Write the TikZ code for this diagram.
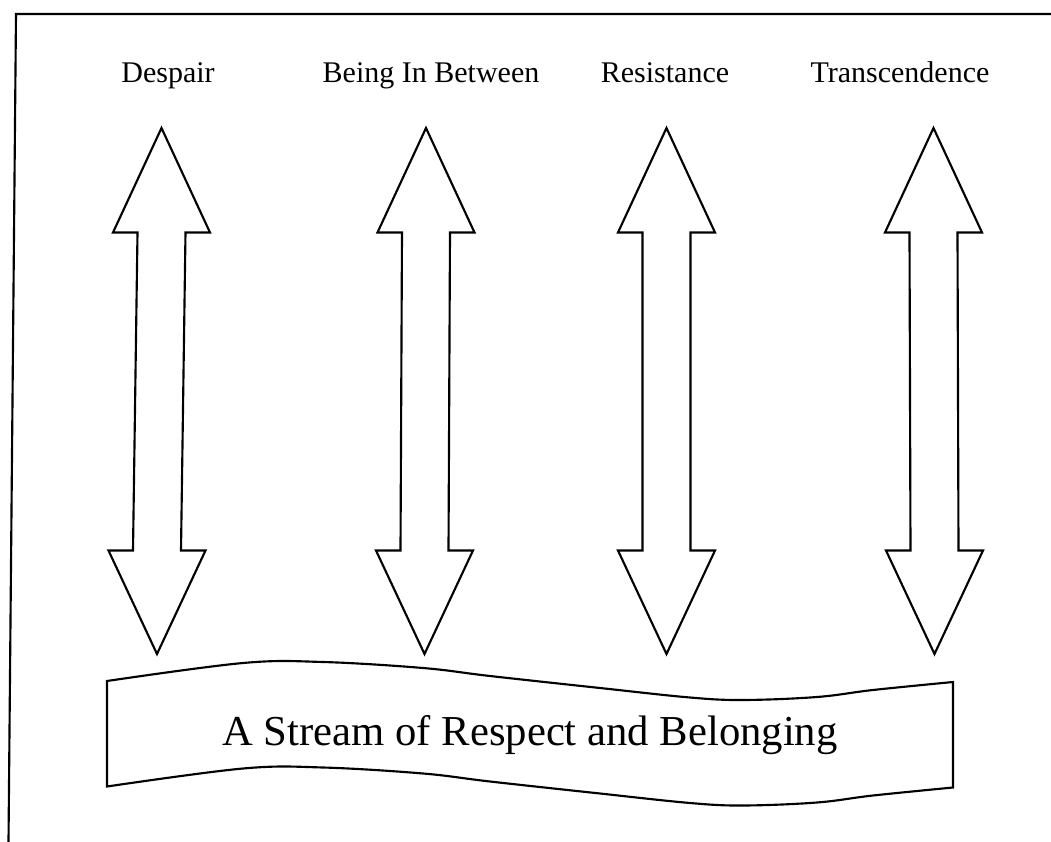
\documentclass[tikz,border=0pt]{standalone}
\usepackage{fontspec}
\setmainfont{Liberation Serif}
\begin{document}
\begin{tikzpicture}[x=0.75pt,y=-0.75pt,
  outline/.style={draw=black, line width=1.6pt, line join=miter, fill=white},
  frameline/.style={draw=black, line width=1.6pt},
  heading/.style={font=\fontsize{22.5}{27}\selectfont, anchor=base, inner sep=0pt},
  banner/.style={font=\fontsize{32}{38}\selectfont, anchor=base, inner sep=0pt}]
\useasboundingbox (0,0) rectangle (1051,842);

% page frame (top and left edges)
\coordinate (frameTR) at (1051,14);
\coordinate (frameTL) at (16,14);
\coordinate (frameBL) at (8.5,842);
\draw[frameline] (frameTR) -- (frameTL) -- (frameBL);

% column headings
\node[heading] (despair)  at (168,83) {Despair};
\node[heading] (between)  at (431,83) {Being In Between};
\node[heading] (resist)   at (665,83) {Resistance};
\node[heading] (transc)   at (900,83) {Transcendence};

% two-way block arrows: top centre x / bottom centre x
\foreach \xt/\xb in {161.5/157, 426/424.5, 666.5/666.5, 933.5/934.5}{
  \draw[outline]
    (\xt,128) -- (\xt+48.5,232.5) -- (\xt+24,232.5)
    -- (\xb+24,550.5) -- (\xb+48.5,550.5) -- (\xb,654)
    -- (\xb-48.5,550.5) -- (\xb-24,550.5)
    -- (\xt-24,232.5) -- (\xt-48.5,232.5) -- cycle;
}

% wavy banner
\draw[outline]
  plot[smooth, tension=0.6] coordinates {(107,681) (243,663) (323,662) (423,668) (490,676) (600,688) (690,697.5) (743,700) (817,697) (873,690) (953,682)}
  -- plot[smooth, tension=0.6] coordinates {(953,787.5) (873,795.5) (817,802.5) (743,805.5) (690,803) (600,793.5) (490,781.5) (423,773.5) (323,767.5) (243,768.5) (107,786.5)}
  -- cycle;
\node[banner] (stream) at (530,745) {A Stream of Respect and Belonging};
\end{tikzpicture}
\end{document}
